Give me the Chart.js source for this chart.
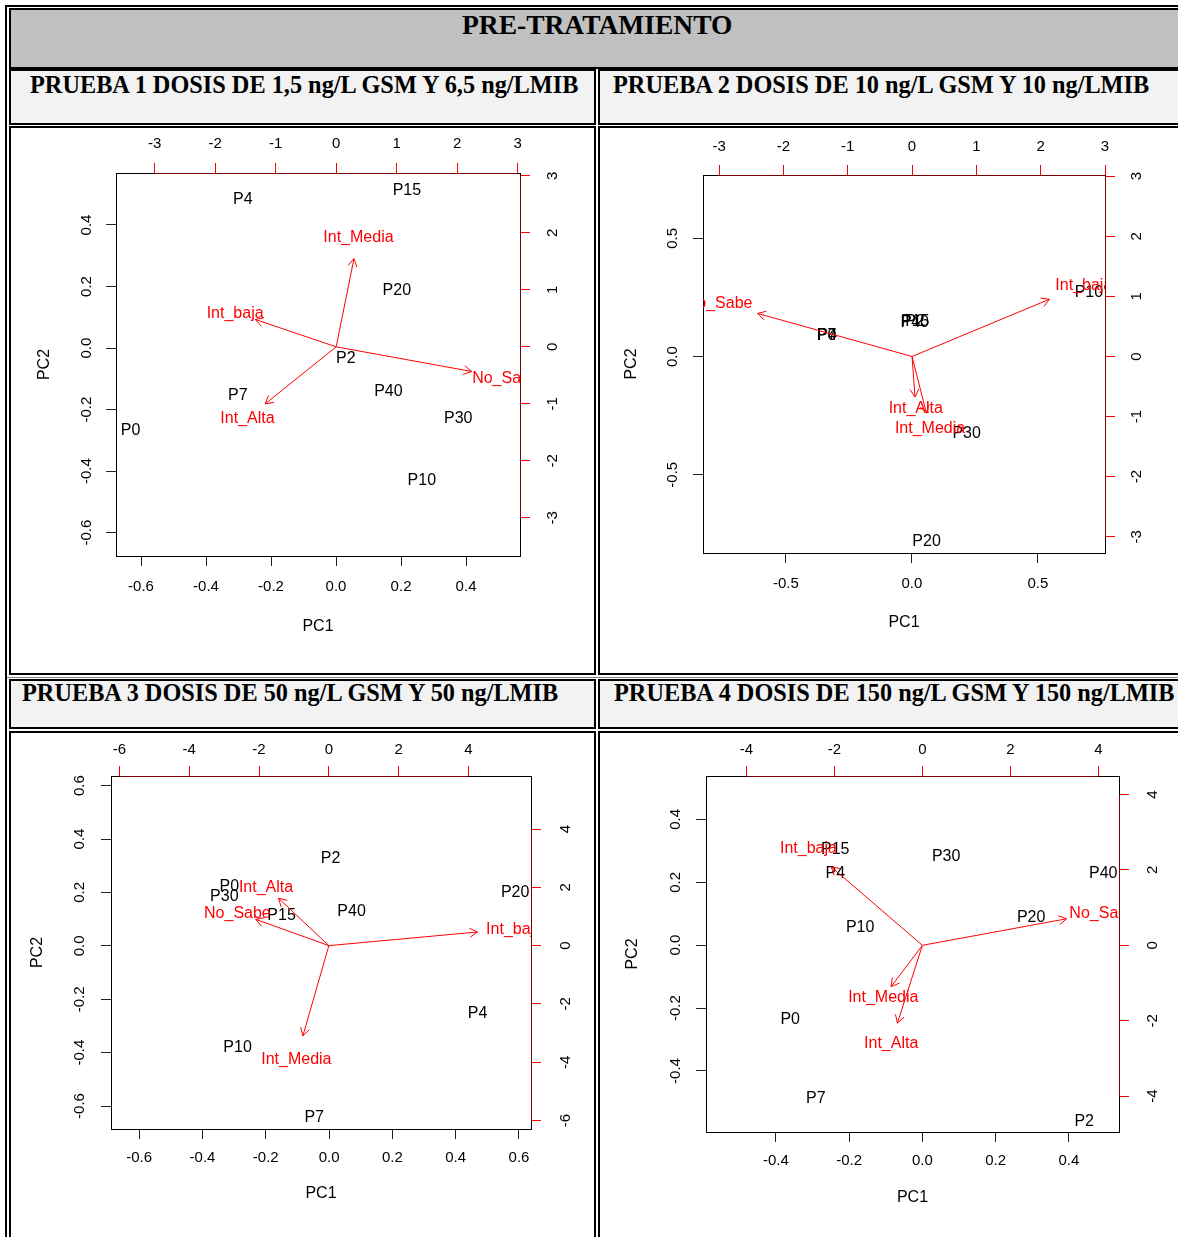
<!DOCTYPE html>
<html><head><meta charset="utf-8">
<script src="https://cdn.jsdelivr.net/npm/chart.js@4.4.1/dist/chart.umd.min.js"></script>
<style>
html,body{margin:0;padding:0;background:#fff;}
body{width:1178px;height:1237px;overflow:hidden;position:relative;}
.cell{position:absolute;box-sizing:border-box;border:2px solid #000;}
.hd{position:absolute;font-family:'Liberation Serif','Times New Roman',serif;font-weight:bold;white-space:nowrap;line-height:1;color:#000;}
canvas{position:absolute;}
</style></head><body>
<div class="cell" style="left:5px;top:5px;width:1200px;height:1300px;"></div>
<div class="cell" style="left:9px;top:8px;width:1200px;height:61px;background:#c0c0c0;"></div>
<div class="cell" style="left:9px;top:69px;width:587px;height:56px;background:#f2f2f2;"></div>
<div class="cell" style="left:598px;top:69px;width:600px;height:56px;background:#f2f2f2;"></div>
<div class="cell" style="left:9px;top:126px;width:587px;height:549px;"></div>
<div class="cell" style="left:598px;top:126px;width:600px;height:549px;"></div>
<div style="position:absolute;left:7px;top:677px;width:1200px;height:1px;background:#808080;"></div>
<div class="cell" style="left:9px;top:679px;width:587px;height:50px;background:#f2f2f2;"></div>
<div class="cell" style="left:598px;top:679px;width:600px;height:50px;background:#f2f2f2;"></div>
<div class="cell" style="left:9px;top:731px;width:587px;height:600px;"></div>
<div class="cell" style="left:598px;top:731px;width:600px;height:600px;"></div>

<div class="hd" id="t0" style="top:11px;font-size:27.5px;">PRE-TRATAMIENTO</div>
<div class="hd" style="left:30px;top:73px;font-size:24.3px;">PRUEBA 1 DOSIS DE 1,5 ng/L GSM Y 6,5 ng/LMIB</div>
<div class="hd" style="left:613px;top:73px;font-size:24.3px;">PRUEBA 2 DOSIS DE 10 ng/L GSM Y 10 ng/LMIB</div>
<div class="hd" style="left:22px;top:681px;font-size:24.3px;">PRUEBA 3 DOSIS DE 50 ng/L GSM Y 50 ng/LMIB</div>
<div class="hd" style="left:614px;top:681px;font-size:24.3px;">PRUEBA 4 DOSIS DE 150 ng/L GSM Y 150 ng/LMIB</div>

<canvas id="c1" width="583" height="545" style="left:11px;top:128px;"></canvas>
<canvas id="c2" width="578" height="545" style="left:600px;top:128px;"></canvas>
<canvas id="c3" width="583" height="504" style="left:11px;top:733px;"></canvas>
<canvas id="c4" width="578" height="504" style="left:600px;top:733px;"></canvas>
<script>
// ---------- DATA ----------
// Prueba 1
const samples1 = ['P4','P15','P20','P2','P7','P40','P30','P0','P10'];
const pc1_1 = [-0.287, 0.218, 0.187, 0.030, -0.302, 0.161, 0.376, -0.632, 0.264];
const pc2_1 = [0.487, 0.516, 0.191, -0.030, -0.151, -0.137, -0.225, -0.264, -0.429];
const vars1 = ['Int_Media','Int_baja','No_Sabe','Int_Alta'];
const load1x = [0.369, -1.67, 2.80, -1.466];
const load1y = [1.935, 0.60, -0.54, -1.25];
const ticksB1 = [-0.6,-0.4,-0.2,0,0.2,0.4];
const ticksL1 = [-0.6,-0.4,-0.2,0,0.2,0.4];
const ticksT1 = [-3,-2,-1,0,1,2,3];
const ticksR1 = [-3,-2,-1,0,1,2,3];
// Prueba 2
const samples2 = ['P10','P0','P4','P7','P2','P15','P40','P30','P20'];
const pc1_2 = [0.702, -0.339, -0.337, -0.339, 0.012, 0.013, 0.011, 0.217, 0.058];
const pc2_2 = [0.275, 0.092, 0.093, 0.091, 0.151, 0.152, 0.150, -0.321, -0.777];
const vars2 = ['No_Sabe','Int_baja','Int_Alta','Int_Media'];
const load2x = [-3.0, 2.67, 0.058, 0.28];
const load2y = [0.895, 1.19, -0.843, -1.18];
const ticksB2 = [-0.5,0,0.5];
const ticksL2 = [-0.5,0,0.5];
const ticksT2 = [-3,-2,-1,0,1,2,3];
const ticksR2 = [-3,-2,-1,0,1,2,3];
// Prueba 3
const samples3 = ['P2','P0','P30','P15','P40','P20','P4','P10','P7'];
const pc1_3 = [0.005, -0.315, -0.331, -0.150, 0.071, 0.588, 0.469, -0.289, -0.047];
const pc2_3 = [0.329, 0.227, 0.187, 0.117, 0.131, 0.202, -0.250, -0.378, -0.641];
const vars3 = ['Int_baja','Int_Alta','No_Sabe','Int_Media'];
const load3x = [5.32, -1.80, -2.62, -0.93];
const load3y = [0.586, 2.03, 1.13, -3.87];
const ticksB3 = [-0.6,-0.4,-0.2,0,0.2,0.4,0.6];
const ticksL3 = [-0.6,-0.4,-0.2,0,0.2,0.4,0.6];
const ticksT3 = [-6,-4,-2,0,2,4];
const ticksR3 = [-6,-4,-2,0,2,4];
// Prueba 4
const samples4 = ['P15','P4','P30','P40','P20','P10','P0','P7','P2'];
const pc1_4 = [-0.238, -0.238, 0.065, 0.494, 0.297, -0.170, -0.361, -0.291, 0.442];
const pc2_4 = [0.307, 0.230, 0.284, 0.230, 0.091, 0.059, -0.233, -0.484, -0.557];
const vars4 = ['Int_baja','No_Sabe','Int_Media','Int_Alta'];
const load4x = [-2.59, 4.1, -0.889, -0.71];
const load4y = [2.60, 0.88, -1.369, -2.58];
const ticksB4 = [-0.4,-0.2,0,0.2,0.4];
const ticksL4 = [-0.4,-0.2,0,0.2,0.4];
const ticksT4 = [-4,-2,0,2,4];
const ticksR4 = [-4,-2,0,2,4];

// ---------- RENDERING ----------
const FONT = "'Liberation Sans', Arial, Helvetica, sans-serif";
const TICK_SIZE = 15, LAB_SIZE = 16, TITLE_SIZE = 16, TL = 10;

(function(){ // center main title
  const t = document.getElementById('t0');
  t.style.left = (597 - t.offsetWidth/2) + 'px';
})();

const f1 = v => v.toFixed(1);
const f0 = v => String(Math.round(v));

const biplotPlugin = {
  id: 'biplot',
  beforeDatasetsDraw(chart) {
    const o = chart.options.plugins.biplot, ctx = chart.ctx, a = chart.chartArea;
    const meta = chart.getDatasetMeta(0);
    ctx.save();
    ctx.beginPath(); ctx.rect(a.left, a.top, a.right - a.left, a.bottom - a.top); ctx.clip();
    ctx.font = LAB_SIZE + 'px ' + FONT; ctx.fillStyle = '#000';
    ctx.textAlign = 'center'; ctx.textBaseline = 'middle';
    meta.data.forEach((el, i) => ctx.fillText(o.samples[i], el.x, el.y + 1));
    ctx.restore();
  },
  afterDatasetsDraw(chart) {
    const o = chart.options.plugins.biplot, ctx = chart.ctx, a = chart.chartArea;
    const sx = chart.scales.x2, sy = chart.scales.y2;
    ctx.save();
    ctx.beginPath(); ctx.rect(a.left, a.top, a.right - a.left, a.bottom - a.top); ctx.clip();
    ctx.font = LAB_SIZE + 'px ' + FONT; ctx.fillStyle = '#ff0000';
    ctx.textAlign = 'center'; ctx.textBaseline = 'middle';
    o.vars.forEach((v, i) => ctx.fillText(v, sx.getPixelForValue(o.lx[i]), sy.getPixelForValue(o.ly[i]) + 1));
    // arrow heads
    ctx.strokeStyle = '#ff0000'; ctx.lineWidth = 1;
    for (let d = 1; d < chart.data.datasets.length; d++) {
      const m = chart.getDatasetMeta(d).data;
      const x0 = m[0].x, y0 = m[0].y, x1 = m[1].x, y1 = m[1].y;
      const ang = Math.atan2(y1 - y0, x1 - x0), L = 9, w = Math.PI / 6;
      ctx.beginPath();
      ctx.moveTo(x1 - L * Math.cos(ang - w), y1 - L * Math.sin(ang - w));
      ctx.lineTo(x1, y1);
      ctx.lineTo(x1 - L * Math.cos(ang + w), y1 - L * Math.sin(ang + w));
      ctx.stroke();
    }
    ctx.restore();
  },
  afterDraw(chart) {
    const o = chart.options.plugins.biplot, ctx = chart.ctx, a = chart.chartArea;
    ctx.save();
    // rotated y tick labels
    ctx.font = TICK_SIZE + 'px ' + FONT; ctx.fillStyle = '#000';
    ctx.textAlign = 'center'; ctx.textBaseline = 'middle';
    [['y', a.left - o.dL, f1], ['y2', a.right + o.dR, f0]].forEach(([id, x, fmt]) => {
      const s = chart.scales[id];
      s.ticks.forEach(t => {
        const y = s.getPixelForValue(t.value);
        ctx.save(); ctx.translate(x, y); ctx.rotate(-Math.PI / 2);
        ctx.fillText(fmt(t.value), 0, 0); ctx.restore();
      });
    });
    // red axis lines over the box (between first and last tick)
    ctx.strokeStyle = 'rgba(140,0,0,0.9)'; ctx.lineWidth = 1;
    const tx = chart.scales.x2, ty = chart.scales.y2;
    const xs = tx.ticks.map(t => tx.getPixelForValue(t.value));
    const ys = ty.ticks.map(t => ty.getPixelForValue(t.value));
    ctx.beginPath();
    ctx.moveTo(Math.min(...xs), a.top + 0.5); ctx.lineTo(Math.max(...xs), a.top + 0.5);
    ctx.moveTo(a.right + 0.5, Math.min(...ys)); ctx.lineTo(a.right + 0.5, Math.max(...ys));
    ctx.stroke();
    ctx.restore();
  }
};

function axis(pos, min, max, ticks, fmt, color, size, showLabels, labelDist, title) {
  return {
    type: 'linear', position: pos, min: min, max: max,
    afterBuildTicks: s => { s.ticks = ticks.map(v => ({ value: v })); },
    afterFit: s => { if (s.isHorizontal()) s.height = size; else s.width = size; },
    grid: { drawOnChartArea: false, drawTicks: true, tickLength: TL, color: color, lineWidth: 1 },
    border: { display: true, color: '#000', width: 1 },
    ticks: { display: showLabels, color: '#000', font: { family: FONT, size: TICK_SIZE },
             padding: Math.max(0, labelDist - TL - TICK_SIZE * 0.6), maxRotation: 0, minRotation: 0,
             autoSkip: false, callback: v => fmt(v) },
    title: title || { display: false }
  };
}

function panel(id, cv, box, rng, D, samples, pc1, pc2, vars, lx, ly, tB, tL, tT, tR) {
  const el = document.getElementById(id);
  const W = el.width, H = el.height;
  const bl = box.l - cv.l, br = box.r - cv.l, bt = box.t - cv.t, bb = box.b - cv.t;
  const lh = TITLE_SIZE * 1.2;
  const padB = (H - (bb + D.tB)) - lh / 2;
  const padL = (bl - D.tL) - lh / 2;
  const datasets = [{
    data: pc1.map((v, i) => ({ x: v, y: pc2[i] })), xAxisID: 'x', yAxisID: 'y',
    pointRadius: 0, showLine: false
  }];
  vars.forEach((v, i) => datasets.push({
    data: [{ x: 0, y: 0 }, { x: lx[i] * 0.8, y: ly[i] * 0.8 }], xAxisID: 'x2', yAxisID: 'y2',
    showLine: true, borderColor: '#ff0000', borderWidth: 1, pointRadius: 0, fill: false
  }));
  new Chart(el, {
    type: 'scatter',
    data: { datasets },
    options: {
      responsive: false, animation: false, devicePixelRatio: 1,
      layout: { padding: 0 },
      plugins: { legend: { display: false }, tooltip: { enabled: false },
                 biplot: { samples, vars, lx, ly, dL: D.dL, dR: D.dR } },
      scales: {
        x: axis('bottom', rng.x[0], rng.x[1], tB, f1, '#222', H - bb, true, D.dB,
                { display: true, text: 'PC1', color: '#000', font: { family: FONT, size: TITLE_SIZE }, padding: { top: 0, bottom: padB } }),
        y: axis('left', rng.y[0], rng.y[1], tL, f1, '#222', bl, false, D.dL,
                { display: true, text: 'PC2', color: '#000', font: { family: FONT, size: TITLE_SIZE }, padding: { top: padL, bottom: 0 } }),
        x2: axis('top', rng.x2[0], rng.x2[1], tT, f0, '#ff0000', bt, true, D.dT),
        y2: axis('right', rng.y2[0], rng.y2[1], tR, f0, '#ff0000', W - br, false, D.dR)
      }
    },
    plugins: [biplotPlugin]
  });
}

panel('c1', { l: 11, t: 128 }, { l: 116, r: 520, t: 173, b: 556 },
  { x: [-0.677, 0.566], y: [-0.676, 0.569], x2: [-3.64, 3.04], y2: [-3.67, 3.05] },
  { dB: 31, dT: 29, dL: 29, dR: 33, tB: 71, tL: 71 },
  samples1, pc1_1, pc2_1, vars1, load1x, load1y, ticksB1, ticksL1, ticksT1, ticksR1);
panel('c2', { l: 600, t: 128 }, { l: 703, r: 1105, t: 175, b: 553 },
  { x: [-0.829, 0.766], y: [-0.831, 0.768], x2: [-3.25, 3.0], y2: [-3.27, 3.02] },
  { dB: 31, dT: 28, dL: 30, dR: 32, tB: 70, tL: 71 },
  samples2, pc1_2, pc2_2, vars2, load2x, load2y, ticksB2, ticksL2, ticksT2, ticksR2);
panel('c3', { l: 11, t: 733 }, { l: 111, r: 531, t: 776, b: 1129 },
  { x: [-0.689, 0.638], y: [-0.686, 0.636], x2: [-6.24, 5.79], y2: [-6.29, 5.82] },
  { dB: 29, dT: 26, dL: 31, dR: 35, tB: 65, tL: 73 },
  samples3, pc1_3, pc2_3, vars3, load3x, load3y, ticksB3, ticksL3, ticksT3, ticksR3);
panel('c4', { l: 600, t: 733 }, { l: 706, r: 1119, t: 776, b: 1132 },
  { x: [-0.591, 0.537], y: [-0.594, 0.538], x2: [-4.92, 4.47], y2: [-4.95, 4.49] },
  { dB: 29, dT: 26, dL: 30, dR: 34, tB: 66, tL: 73 },
  samples4, pc1_4, pc2_4, vars4, load4x, load4y, ticksB4, ticksL4, ticksT4, ticksR4);
</script>
</body></html>
